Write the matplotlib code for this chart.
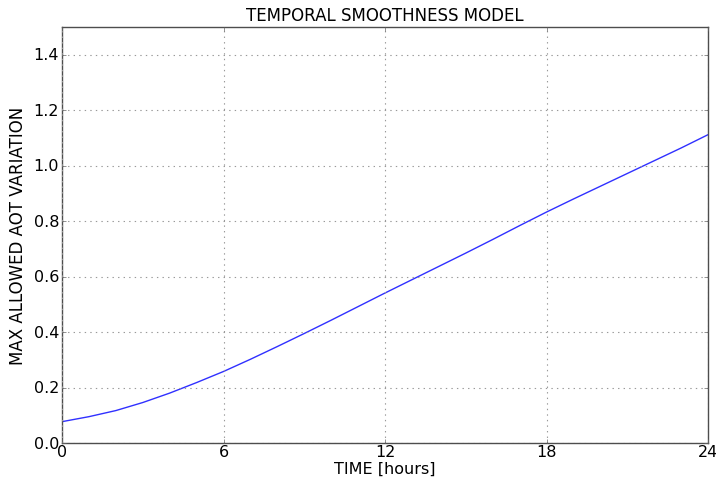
import numpy as np
import matplotlib
matplotlib.use("Agg")
import matplotlib.pyplot as plt

plt.style.use("classic")

hours = np.arange(0, 25)
max_variation = [0.077, 0.095, 0.117, 0.146, 0.180, 0.218, 0.258, 0.302, 0.348,
                 0.395, 0.443, 0.492, 0.541, 0.589, 0.637, 0.685, 0.734, 0.784,
                 0.833, 0.880, 0.926, 0.972, 1.018, 1.064, 1.112]
xticks = [0, 6, 12, 18, 24]

fig = plt.figure(figsize=(7.16, 4.85), dpi=100, facecolor="white")
ax = fig.add_axes([0.0866, 0.0845, 0.9024, 0.8577])

ax.plot(hours, max_variation, color="#3030ff", linewidth=1)

ax.set_xlim(0, 24)
ax.set_ylim(0, 1.5)
ax.set_xticks(xticks)
ax.grid(True, color="0.6", linestyle=":", linewidth=0.8)
for s in ax.spines.values():
    s.set_color("0.3")
ax.tick_params(axis="both", which="major", length=3, color="0.4",
               labelsize=11.5)
ax.tick_params(axis="x", pad=1)
ax.tick_params(axis="y", pad=2)
ax.set_title("TEMPORAL SMOOTHNESS MODEL", fontsize=12)
ax.set_xlabel("TIME [hours]", fontsize=11.5, labelpad=1)
ax.set_ylabel("MAX ALLOWED AOT VARIATION", fontsize=12, labelpad=5)

fig.savefig("out.png", dpi=100, facecolor="white")
